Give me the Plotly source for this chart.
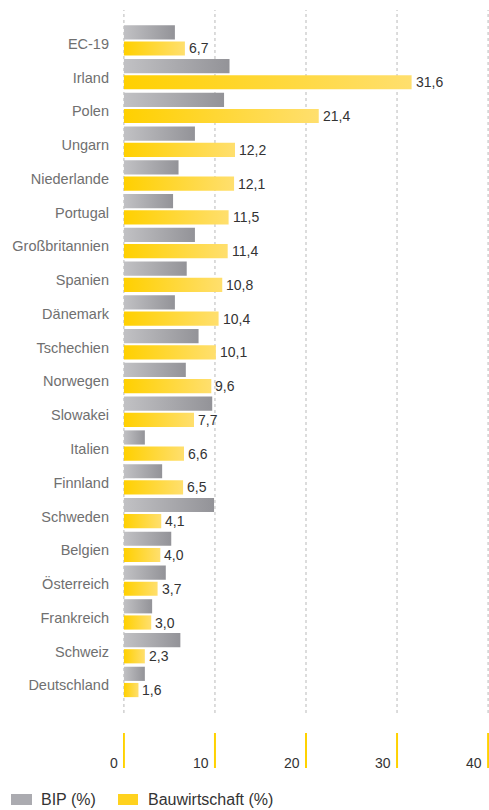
import plotly.graph_objects as go

# Data
countries = ["EC-19", "Irland", "Polen", "Ungarn", "Niederlande", "Portugal",
             "Großbritannien", "Spanien", "Dänemark", "Tschechien", "Norwegen",
             "Slowakei", "Italien", "Finnland", "Schweden", "Belgien",
             "Österreich", "Frankreich", "Schweiz", "Deutschland"]
bip = [5.6, 11.6, 11.0, 7.8, 6.0, 5.4, 7.8, 6.9, 5.6, 8.2, 6.8,
       9.7, 2.3, 4.2, 9.9, 5.2, 4.6, 3.1, 6.2, 2.3]
bau = [6.7, 31.6, 21.4, 12.2, 12.1, 11.5, 11.4, 10.8, 10.4, 10.1, 9.6,
       7.7, 6.6, 6.5, 4.1, 4.0, 3.7, 3.0, 2.3, 1.6]
x_ticks = [0, 10, 20, 30, 40]
series_names = ["BIP (%)", "Bauwirtschaft (%)"]

# Styling
W, H = 489, 810
M_L, M_R, M_T, M_B = 123, 0, 10, 97
PLOT_W = W - M_L - M_R
PLOT_H = H - M_T - M_B
GREY = ("#c1c1c4", "#939398")
YELLOW = ("#ffd000", "#ffdf6e")
FONT = "Liberation Sans, Arial, sans-serif"


def px_x(px):
    return (px - M_L) / PLOT_W


def px_y(py):
    return (H - M_B - py) / PLOT_H


def bar_trace(value, y0, y1, colors):
    return go.Scatter(
        x=[0, value, value, 0, 0], y=[y0, y0, y1, y1, y0],
        mode="none", fill="toself",
        fillgradient=dict(type="horizontal",
                          colorscale=[[0, colors[0]], [1, colors[1]]]),
        hoverinfo="skip", showlegend=False,
    )


fig = go.Figure()
for i, (g, b) in enumerate(zip(bip, bau)):
    fig.add_trace(bar_trace(g, i - 0.45, i - 0.03, GREY))
    fig.add_trace(bar_trace(b, i + 0.03, i + 0.45, YELLOW))

shapes = []
annotations = []

# dashed vertical grid lines
for t in x_ticks:
    shapes.append(dict(type="line", xref="x", yref="paper", layer="below",
                       x0=t, x1=t, y0=0, y1=1,
                       line=dict(color="#b9b9b9", width=1, dash="3px,3px")))

# value labels next to the construction bars
for i, v in enumerate(bau):
    annotations.append(dict(xref="x", yref="y", x=v, y=i + 0.24,
                            text=f"{v:.1f}".replace(".", ","),
                            showarrow=False, xanchor="left",
                            yanchor="middle", xshift=2,
                            font=dict(family=FONT, size=14, color="#333333")))

# yellow tick marks and labels below the grid
for t in x_ticks:
    shapes.append(dict(type="line", xref="x", yref="paper",
                       x0=t, x1=t, y0=px_y(733), y1=px_y(768),
                       line=dict(color="#ffd200", width=2)))
    annotations.append(dict(xref="x", yref="paper", x=t, y=px_y(763),
                            text=str(t), showarrow=False,
                            xanchor="right", yanchor="middle", xshift=-4,
                            font=dict(family=FONT, size=14, color="#333333")))

# legend
legend_items = [(series_names[0], "#ababb0", 11, 32, 39),
                (series_names[1], "#ffd21e", 118, 138, 146)]
for name, col, sx0, sx1, tx in legend_items:
    shapes.append(dict(type="rect", xref="paper", yref="paper",
                       x0=px_x(sx0), x1=px_x(sx1), y0=px_y(794), y1=px_y(805),
                       fillcolor=col, line=dict(width=0)))
    annotations.append(dict(xref="paper", yref="paper", x=px_x(tx),
                            y=px_y(799.5), text=name, showarrow=False,
                            xanchor="left", yanchor="middle",
                            font=dict(family=FONT, size=16, color="#333333")))

fig.update_layout(
    width=W, height=H,
    margin=dict(l=M_L, r=M_R, t=M_T, b=M_B, pad=0),
    paper_bgcolor="white", plot_bgcolor="white",
    shapes=shapes, annotations=annotations,
    showlegend=False,
    xaxis=dict(range=[-0.1, 40.1], showticklabels=False, showgrid=False,
               zeroline=False, showline=False, fixedrange=True),
    yaxis=dict(range=[19.92, -0.9],
               tickvals=[i + 0.1 for i in range(len(countries))],
               ticktext=countries, showgrid=False, zeroline=False,
               showline=False, ticks="", ticklabelstandoff=13,
               tickfont=dict(family=FONT, size=14.5, color="#707070"),
               fixedrange=True),
)

fig.write_html("out.html")
